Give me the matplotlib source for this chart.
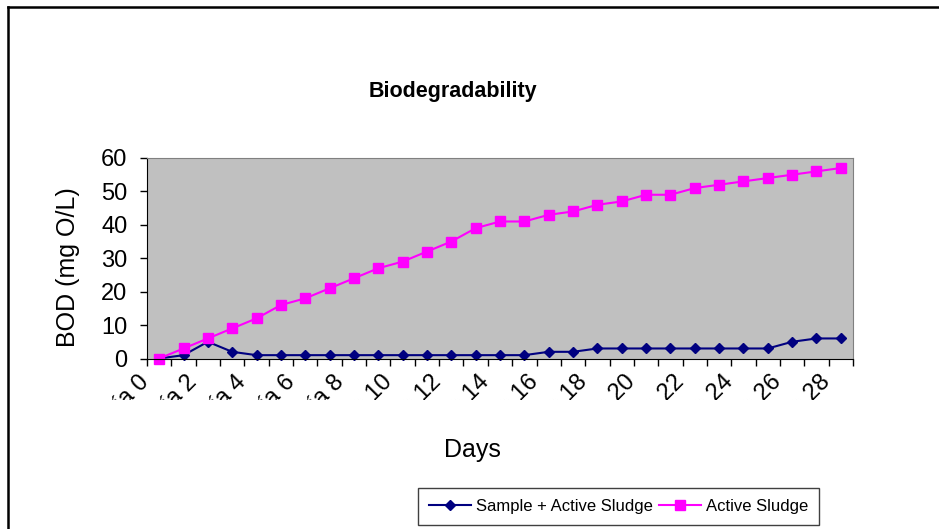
import matplotlib
matplotlib.use('Agg')
import matplotlib.pyplot as plt
import matplotlib.transforms as mtransforms
from matplotlib.lines import Line2D

plt.rcParams['font.family'] = ['Liberation Sans', 'DejaVu Sans']

# ---- data ----
days = ["Día 0", "Día 1", "Día 2", "Día 3", "Día 4", "Día 5", "Día 6", "Día 7",
        "Día 8", "Día 9", "Día 10", "Día 11", "Día 12", "Día 13", "Día 14",
        "Día 15", "Día 16", "Día 17", "Día 18", "Día 19", "Día 20", "Día 21",
        "Día 22", "Día 23", "Día 24", "Día 25", "Día 26", "Día 27", "Día 28"]
sample_sludge = [0, 1, 5, 2, 1, 1, 1, 1, 1, 1, 1, 1, 1, 1, 1, 1, 2, 2, 3, 3,
                 3, 3, 3, 3, 3, 3, 5, 6, 6]
active_sludge = [0, 3, 6, 9, 12, 16, 18, 21, 24, 27, 29, 32, 35, 39, 41, 41,
                 43, 44, 46, 47, 49, 49, 51, 52, 53, 54, 55, 56, 57]
y_ticks = [0, 10, 20, 30, 40, 50, 60]

W, H = 939, 529
fig = plt.figure(figsize=(W / 100, H / 100), dpi=100)
fig.patch.set_facecolor('white')

x0, x1, y0, y1 = 147, 853, 158, 358.5
ax = fig.add_axes([x0 / W, 1 - y1 / H, (x1 - x0) / W, (y1 - y0) / H])
ax.set_facecolor('#C0C0C0')

xs = list(range(len(days)))
ax.plot(xs, sample_sludge, color='#000080', marker='D', ms=4.7, lw=1.5,
        label='Sample + Active Sludge', clip_on=False)
ax.plot(xs, active_sludge, color='#FF00FF', marker='s', ms=7, lw=1.5,
        label='Active Sludge', clip_on=False)

ax.set_xlim(-0.5, len(days) - 0.5)
ax.set_ylim(0, 60)
ax.set_yticks(y_ticks)
ax.tick_params(axis='y', labelsize=17, length=5, width=1, direction='out', pad=9)

# category boundary ticks (major, no labels) and labels on every 2nd category (minor)
ax.set_xticks([i - 0.5 for i in range(len(days) + 1)])
ax.set_xticklabels([])
ax.set_xticks(xs[::2], labels=days[::2], minor=True)
ax.tick_params(axis='x', which='major', length=5, width=1, direction='out')
ax.tick_params(axis='x', which='minor', length=0, labelsize=17, pad=9)

# the category labels are cut off just below the axis (as in the original chart)
clip = mtransforms.TransformedBbox(
    mtransforms.Bbox.from_extents(0, 1 - 400 / H, 1, 1), fig.transFigure)
shift = mtransforms.ScaledTranslation(-6 / 100, 0, fig.dpi_scale_trans)
for lab in ax.get_xticklabels(minor=True):
    lab.set_rotation(45)
    lab.set_ha('right')
    lab.set_transform(lab.get_transform() + shift)
    lab.set_clip_box(clip)
    lab.set_clip_on(True)

for s in ['top', 'right']:
    ax.spines[s].set_color('#808080')
for s in ['left', 'bottom']:
    ax.spines[s].set_color('black')

ax.set_ylabel('BOD (mg O/L)', fontsize=18)
ax.yaxis.set_label_coords((80 - x0) / (x1 - x0), (y1 - 267.5) / (y1 - y0))

ax.set_xlabel('Days', fontsize=18)
ax.xaxis.label.set_va('baseline')
ax.xaxis.set_label_coords((472 - x0) / (x1 - x0), (y1 - 457) / (y1 - y0))

ax.set_title('Biodegradability', fontsize=15.5, fontweight='bold', pad=0,
             x=(453 - x0) / (x1 - x0), y=(y1 - 97) / (y1 - y0))

leg = ax.legend(loc='upper left', bbox_to_anchor=(418 / W, 1 - 488 / H),
                bbox_transform=fig.transFigure, ncol=2, fontsize=12,
                frameon=True, fancybox=False, framealpha=1, edgecolor='#404040',
                handlelength=2.5, handletextpad=0.3, columnspacing=0.4,
                borderaxespad=0, borderpad=0.65)
leg.get_frame().set_linewidth(1)

# outer chart frame (left and top)
fig.add_artist(Line2D([8 / W, 8 / W], [0, 1 - 7 / H], transform=fig.transFigure,
                      color='black', lw=1.8, zorder=4))
fig.add_artist(Line2D([8 / W, 1], [1 - 7 / H, 1 - 7 / H], transform=fig.transFigure,
                      color='black', lw=1.8, zorder=4))

fig.savefig('out.png', dpi=100)
